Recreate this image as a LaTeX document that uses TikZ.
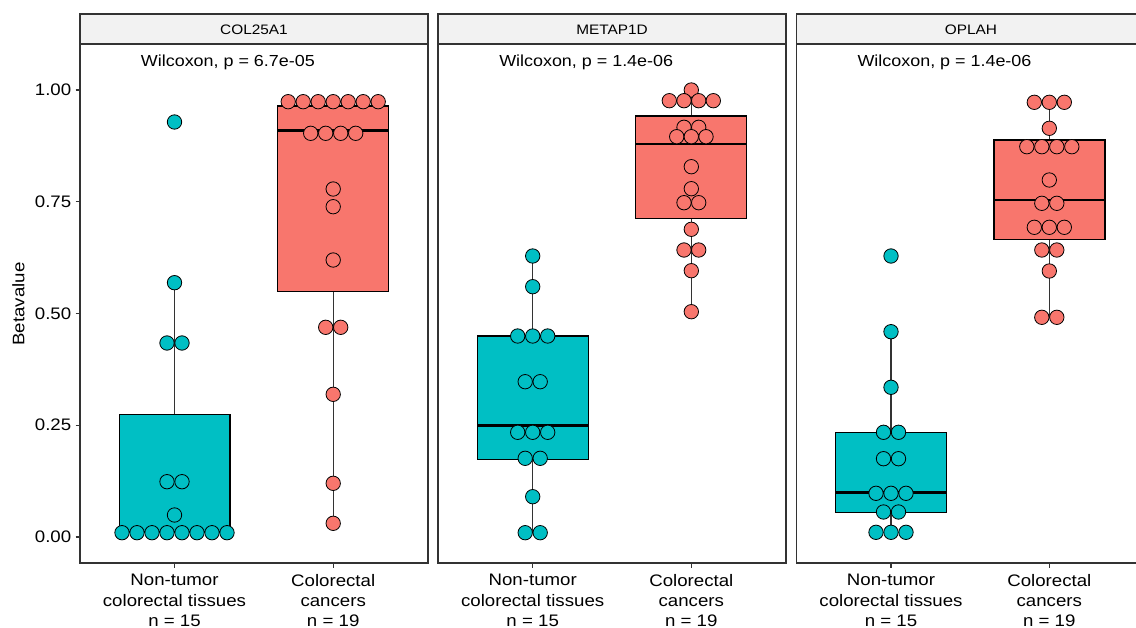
\documentclass[tikz,border=0pt]{standalone}
\usepackage{fontspec}
\setmainfont[FakeStretch=1.12]{Liberation Sans}
\definecolor{teal}{HTML}{00BFC4}
\definecolor{salmon}{HTML}{F8766D}
\definecolor{stripbg}{HTML}{F2F2F2}
\definecolor{frame}{HTML}{333333}
\tikzset{
  panel/.style={draw=frame, line width=1.1pt},
  strip/.style={draw=frame, fill=stripbg, line width=0.9pt},
  boxT/.style={draw=black, fill=teal, line width=0.8pt},
  boxR/.style={draw=black, fill=salmon, line width=0.8pt},
  whisk/.style={draw=frame, line width=0.9pt},
  med/.style={draw=black, line width=2pt},
  dotT/.style={circle, draw=black, fill=teal, line width=0.6pt, minimum size=10.8pt, inner sep=0pt},
  dotR/.style={circle, draw=black, fill=salmon, line width=0.6pt, minimum size=10.8pt, inner sep=0pt},
  tickl/.style={draw=frame, line width=0.9pt},
  ticklab/.style={font=\fontsize{12.5}{15}\selectfont, anchor=east, inner sep=0pt},
  xlab/.style={font=\fontsize{12.5}{15.2}\selectfont, align=center, anchor=north, inner sep=0pt},
  striptxt/.style={font=\fontsize{10.3}{12}\selectfont, inner sep=0pt},
  wilc/.style={font=\fontsize{12}{14}\selectfont, anchor=west, inner sep=0pt},
}
\begin{document}
\begin{tikzpicture}[x=0.75pt,y=-0.75pt]
\useasboundingbox (0,0) rectangle (1136,628);
\begin{scope}
\clip (0,0) rectangle (1136,628);

% ---------- panels and strips ----------
\foreach \L/\R/\name/\lab in {80/428/p1/COL25A1, 438/786/p2/METAP1D, 796.7/1145/p3/OPLAH}{
  \draw[panel] (\L,44) rectangle (\R,563);
  \draw[strip] (\L,14) rectangle (\R,44);
  \node[striptxt] (\name strip) at ({(\L+\R)/2},29.5) {\lab};
}
\node[wilc] (w1) at (140.7,62.5) {Wilcoxon, p = 6.7e-05};
\node[wilc] (w2) at (499,62.5) {Wilcoxon, p = 1.4e-06};
\node[wilc] (w3) at (857.3,62.5) {Wilcoxon, p = 1.4e-06};

% ---------- y axis ----------
\foreach \yy/\t [count=\i] in {90/1.00, 201.75/0.75, 313.5/0.50, 425.25/0.25, 537/0.00}{
  \draw[tickl] (75.5,\yy) -- (80,\yy);
  \node[ticklab] (yt\i) at (71.5,\yy) {\t};
}
\node[font=\fontsize{12.5}{15}\selectfont, rotate=90, inner sep=0pt] (ylab) at (18.5,304) {Betavalue};

% ---------- x axis ----------
\foreach \g [count=\i] in {174.5, 532.7, 891}{
  \draw[tickl] (\g,563) -- (\g,567.5);
  \node[xlab] (xa\i) at (\g,574) {Non-tumor\\colorectal tissues\\n = 15};
}
\foreach \g [count=\i] in {333.2, 691.3, 1049.3}{
  \draw[tickl] (\g,563) -- (\g,567.5);
  \node[xlab] (xb\i) at (\g,574) {Colorectal\\cancers\\n = 19};
}

% ---------- panel 1 ----------
% group 1
\draw[whisk] (174.5,414.3) -- (174.5,282.7);
\draw[boxT] (119.3,414.3) rectangle (230,532);
\draw[med] (119.3,532) -- (230,532);
% group 2
\draw[whisk] (333.2,106) -- (333.2,101.7);
\draw[whisk] (333.2,291.7) -- (333.2,523.3);
\draw[boxR] (277.7,106) rectangle (388.3,291.7);
\draw[med] (277.7,130.7) -- (388.3,130.7);

% ---------- panel 2 ----------
\draw[whisk] (532.7,336) -- (532.7,256);
\draw[whisk] (532.7,459.3) -- (532.7,532.7);
\draw[boxT] (477.3,336) rectangle (588.3,459.3);
\draw[med] (477.3,425.3) -- (588.3,425.3);
\draw[whisk] (691.3,116) -- (691.3,90);
\draw[whisk] (691.3,218.3) -- (691.3,311.7);
\draw[boxR] (635.7,116) rectangle (746.7,218.3);
\draw[med] (635.7,144) -- (746.7,144);

% ---------- panel 3 ----------
\draw[whisk] (891,432.3) -- (891,331.7);
\draw[whisk] (891,512.3) -- (891,532.3);
\draw[boxT] (835.7,432.3) rectangle (946.3,512.3);
\draw[med] (835.7,492.7) -- (946.3,492.7);
\draw[whisk] (1049.3,140) -- (1049.3,102.3);
\draw[whisk] (1049.3,239.3) -- (1049.3,317.3);
\draw[boxR] (994,140) rectangle (1105,239.3);
\draw[med] (994,200) -- (1105,200);

% ---------- dots ----------
% panel 1 group 1
\foreach \px/\py [count=\i] in {174.5/122, 174.5/282.7, 167/343, 182/343, 167/481.7, 182/481.7, 174.5/515,
  122/532.7, 137/532.7, 152/532.7, 167/532.7, 182/532.7, 197/532.7, 212/532.7, 227/532.7}
  \node[dotT] (a\i) at (\px,\py) {};
% panel 1 group 2
\foreach \px/\py [count=\i] in {288.2/101.7, 303.2/101.7, 318.2/101.7, 333.2/101.7, 348.2/101.7, 363.2/101.7, 378.2/101.7,
  310.7/133.3, 325.7/133.3, 340.7/133.3, 355.7/133.3,
  333.2/189, 333.2/206.7, 333.2/260, 325.7/327.3, 340.7/327.3, 333.2/394.3, 333.2/483.3, 333.2/523.3}
  \node[dotR] (b\i) at (\px,\py) {};
% panel 2 group 1
\foreach \px/\py [count=\i] in {532.7/256, 532.7/286.7, 517.7/336, 532.7/336, 547.7/336,
  525.2/381.7, 540.2/381.7, 517.7/432.3, 532.7/432.3, 547.7/432.3,
  525.2/458.3, 540.2/458.3, 532.7/496.7, 525.2/532.7, 540.2/532.7}
  \node[dotT] (c\i) at (\px,\py) {};
% panel 2 group 2
\foreach \px/\py [count=\i] in {691.3/90, 669.3/100.7, 684/100.7, 698.7/100.7, 713.3/100.7,
  684/127.3, 698.7/127.3, 676.7/136.7, 691.3/136.7, 706/136.7,
  691.3/166.7, 691.3/188.7, 684/202.7, 698.7/202.7, 691.3/229.3,
  684/250, 698.7/250, 691.3/270.7, 691.3/311.7}
  \node[dotR] (d\i) at (\px,\py) {};
% panel 3 group 1
\foreach \px/\py [count=\i] in {891/256, 891/331.7, 891/387.3, 883.5/432.3, 898.5/432.3,
  883.5/458.7, 898.5/458.7, 876/493.3, 891/493.3, 906/493.3,
  883.5/512, 898.5/512, 876/532.3, 891/532.3, 906/532.3}
  \node[dotT] (e\i) at (\px,\py) {};
% panel 3 group 2
\foreach \px/\py [count=\i] in {1034.3/102.3, 1049.3/102.3, 1064.3/102.3, 1049.3/128.3,
  1026.8/146.7, 1041.8/146.7, 1056.8/146.7, 1071.8/146.7, 1049.3/180,
  1041.8/203.3, 1056.8/203.3, 1034.3/227.3, 1049.3/227.3, 1064.3/227.3,
  1041.8/250, 1056.8/250, 1049.3/271, 1041.8/317.3, 1056.8/317.3}
  \node[dotR] (f\i) at (\px,\py) {};
\end{scope}
\end{tikzpicture}
\end{document}
